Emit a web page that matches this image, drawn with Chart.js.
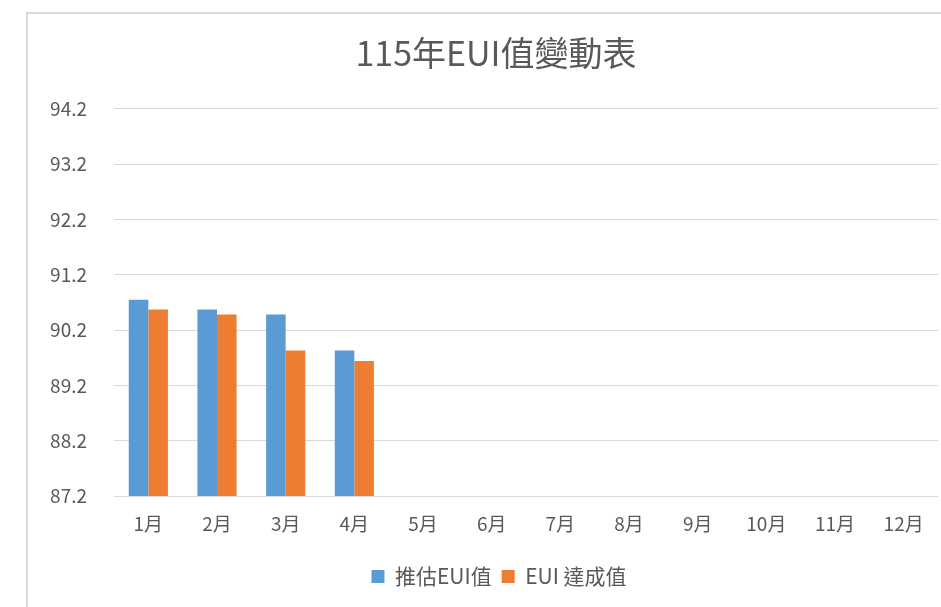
<!DOCTYPE html>
<html>
<head>
<meta charset="utf-8">
<script src="https://cdn.jsdelivr.net/npm/chart.js@4/dist/chart.umd.min.js"></script>
<style>
  html, body { margin: 0; padding: 0; background: #ffffff; }
  #wrap { position: relative; width: 941px; height: 607px; overflow: hidden; }
  #frame { position: absolute; left: 26px; top: 12px; width: 940px; height: 620px;
           border-left: 2px solid #d9d9d9; border-top: 2px solid #d9d9d9; box-sizing: border-box; }
  canvas { position: absolute; left: 0; top: 0; }
</style>
</head>
<body>
<div id="wrap">
  <div id="frame"></div>
  <canvas id="c" width="941" height="607"></canvas>
</div>
<script>
const chartTitle = '115年EUI值變動表';
const months = ['1月','2月','3月','4月','5月','6月','7月','8月','9月','10月','11月','12月'];
const seriesNames = ['推估EUI值', 'EUI 達成值'];
const estimatedEUI = [90.75, 90.57, 90.48, 89.83, null, null, null, null, null, null, null, null];
const achievedEUI  = [90.57, 90.48, 89.83, 89.64, null, null, null, null, null, null, null, null];
const yMin = 87.2;
const yMax = 94.2;
const yStep = 1;

const FONT = '"Noto Sans CJK TC", "Noto Sans", sans-serif';
const TEXT = '#595959';

// Center title and legend within the framed chart area (frame starts at x=26)
const shiftBoxes = {
  id: 'shiftBoxes',
  afterLayout(chart) {
    const t = chart.titleBlock;
    if (t) { t.left += 27; t.right += 27; }
    const l = chart.legend;
    if (l) { l.left += 30; l.right += 30; }
  }
};

new Chart(document.getElementById('c'), {
  type: 'bar',
  data: {
    labels: months,
    datasets: [
      { label: seriesNames[0], data: estimatedEUI, backgroundColor: '#5b9bd5', borderWidth: 0 },
      { label: seriesNames[1], data: achievedEUI, backgroundColor: '#ed7d31', borderWidth: 0 }
    ]
  },
  plugins: [shiftBoxes],
  options: {
    responsive: false,
    animation: false,
    layout: { padding: { left: 0, right: 3, top: 14, bottom: 10 } },
    datasets: { bar: { categoryPercentage: 0.57, barPercentage: 1.0 } },
    plugins: {
      title: {
        display: true,
        text: chartTitle,
        color: TEXT,
        font: { family: FONT, size: 34, weight: 'normal', lineHeight: 1.2 },
        padding: { top: 19, bottom: 35 }
      },
      legend: {
        position: 'bottom',
        labels: {
          color: TEXT,
          font: { family: FONT, size: 21 },
          boxWidth: 13,
          boxHeight: 13,
          padding: 10
        }
      },
      tooltip: { enabled: false }
    },
    scales: {
      x: {
        grid: { display: false, drawTicks: false },
        border: { display: false },
        ticks: { color: TEXT, font: { family: FONT, size: 19 }, padding: 16, maxRotation: 0 },
        afterFit: (s) => { s.height = 60; }
      },
      y: {
        min: yMin,
        max: yMax,
        grid: { color: '#d9d9d9', lineWidth: 1, drawTicks: false },
        border: { display: false },
        ticks: {
          stepSize: yStep,
          color: TEXT,
          font: { family: FONT, size: 19 },
          padding: 27,
          callback: (v) => Number(v).toFixed(1)
        },
        afterFit: (s) => { s.width = 114; }
      }
    }
  }
});
</script>
</body>
</html>
